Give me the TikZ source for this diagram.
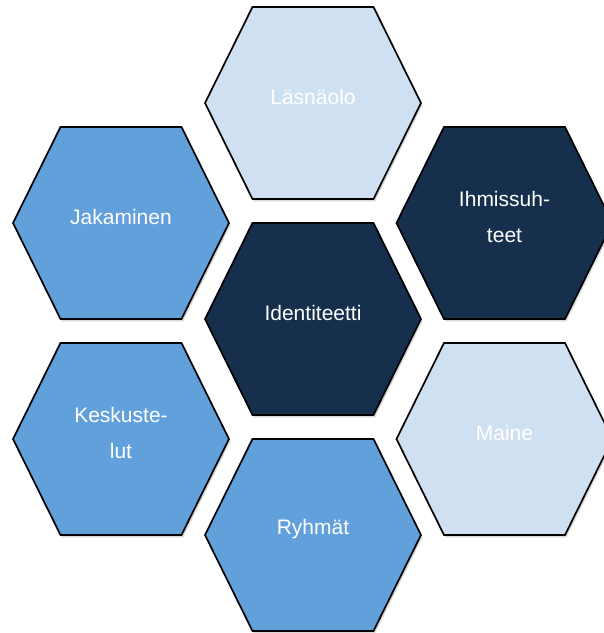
\documentclass[tikz,border=0pt]{standalone}
\usepackage{fontspec}
\setmainfont{Liberation Sans}
\usetikzlibrary{shadows}
\definecolor{hexlight}{RGB}{207,224,242}
\definecolor{hexmid}{RGB}{98,160,219}
\definecolor{hexdark}{RGB}{21,47,77}
\tikzset{
    hexcell/.style={draw=black, line width=1.7pt, line join=miter,
        drop shadow={opacity=0.3, shadow xshift=1.5pt, shadow yshift=-2.5pt}},
    hexlabel/.style={text=white, align=center, font=\fontsize{21}{36}\selectfont}
}
% name, x, y, fill colour, label
\newcommand{\honeycell}[5]{%
    \draw[hexcell, fill=#4, shift={(#2,#3)}]
        (-108,0) -- (-60.5,96) -- (60.5,96) -- (108,0) -- (60.5,-96) -- (-60.5,-96) -- cycle;
    \node[hexlabel] (#1) at (#2,#3+6) {#5};
}

\begin{document}
\begin{tikzpicture}[x=1pt, y=1pt]
    \useasboundingbox (0,0) rectangle (604,633);
    \clip (0,0) rectangle (604,633);
    \honeycell{lasnaolo}{313}{530}{hexlight}{Läsnäolo}
    \honeycell{jakaminen}{121}{410}{hexmid}{Jakaminen}
    \honeycell{ihmissuhteet}{504.5}{410}{hexdark}{Ihmissuh-\\teet}
    \honeycell{identiteetti}{313}{314}{hexdark}{Identiteetti}
    \honeycell{keskustelut}{121}{194}{hexmid}{Keskuste-\\lut}
    \honeycell{maine}{504.5}{194}{hexlight}{Maine}
    \honeycell{ryhmat}{313}{98}{hexmid}{Ryhmät}
\end{tikzpicture}
\end{document}
